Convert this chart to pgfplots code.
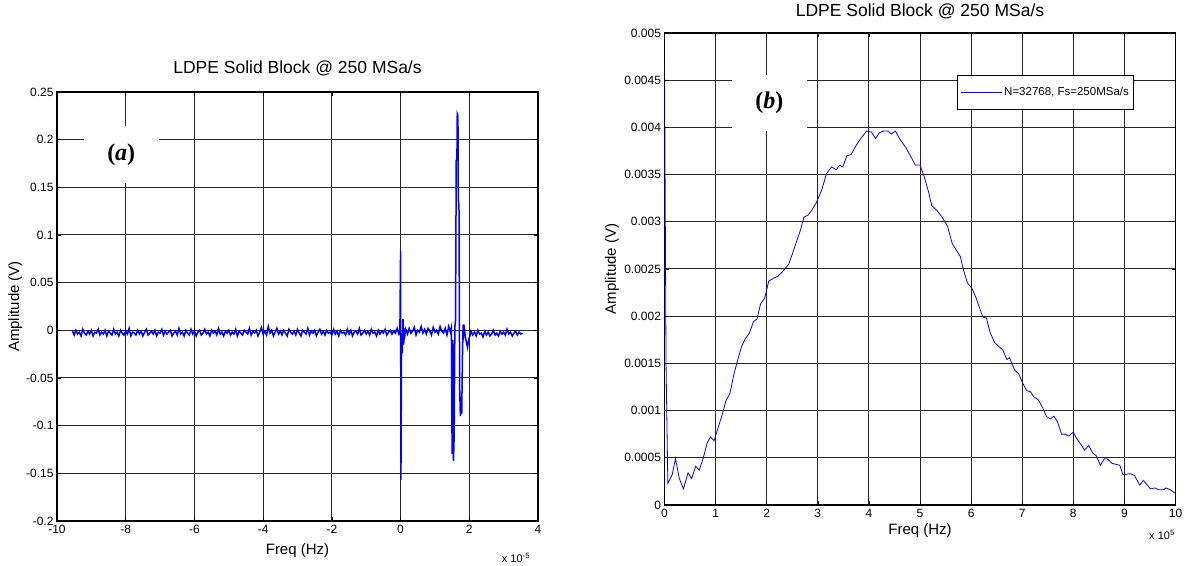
\documentclass[border=0pt]{standalone}
\usepackage{pgfplots}
\pgfplotsset{compat=1.18}
\usepackage{fontspec}
\setmainfont{Liberation Sans}
\newfontfamily\seriffont{Liberation Serif}
\definecolor{mblue}{RGB}{0,0,255}
\begin{document}
\begin{tikzpicture}
\path (0pt,0pt) rectangle (1198pt,562pt);
\pgfplotsset{
 mstyle/.style={
  scale only axis,
  axis line style={line width=1.4pt},
  grid=major,
  grid style={black!85, line width=0.9pt},
  tick style={black, line width=0.6pt},
  major tick length=4pt,
  tick align=inside,
  ticklabel style={font=\fontsize{12}{14}\selectfont},
  xticklabel style={yshift=-1pt},
  label style={font=\fontsize{15}{17}\selectfont},
  title style={font=\fontsize{17.5}{19}\selectfont},
 }
}
% ---------------- left panel ----------------
\begin{axis}[mstyle, name=L,
  at={(57pt,44pt)}, anchor=south west, width=481pt, height=429pt,
  xmin=-10, xmax=4, ymin=-0.2, ymax=0.25,
  xtick={-10,-8,-6,-4,-2,0,2,4},
  xticklabels={-10,-8,-6,-4,-2,0,2,4},
  ytick={-0.2,-0.15,-0.1,-0.05,0,0.05,0.1,0.15,0.2,0.25},
  yticklabels={-0.2,-0.15,-0.1,-0.05,0,0.05,0.1,0.15,0.2,0.25},
  title={LDPE Solid Block @ 250 MSa/s},
  title style={at={(axis description cs:0.5,1.041)}, anchor=center},
  xlabel={Freq (Hz)},
  xlabel style={at={(axis description cs:0.5,-0.07)}, anchor=center},
  ylabel={Amplitude (V)},
  ylabel style={at={(axis description cs:-0.087,0.5)}, anchor=center},
]
\addplot[mblue, line width=1.5pt] coordinates {
(-9.55,-0.001)(-9.50,-0.005)(-9.45,0.000)(-9.40,-0.004)(-9.35,-0.002)(-9.30,-0.006)(-9.25,0.001)(-9.20,-0.003)(-9.15,-0.005)(-9.10,-0.001)
(-9.05,-0.004)(-9.00,0.000)(-8.95,-0.006)(-8.90,-0.002)(-8.85,-0.003)(-8.80,0.001)(-8.75,-0.005)(-8.70,-0.002)(-8.65,-0.004)(-8.60,0.000)
(-8.55,-0.006)(-8.50,-0.001)(-8.45,-0.003)(-8.40,-0.005)(-8.35,0.001)(-8.30,-0.004)(-8.25,-0.002)(-8.20,-0.006)(-8.15,0.000)(-8.10,-0.003)
(-8.05,-0.005)(-8.00,-0.001)(-7.95,-0.004)(-7.90,0.002)(-7.85,-0.006)(-7.80,-0.002)(-7.75,-0.003)(-7.70,-0.005)(-7.65,0.000)(-7.60,-0.004)
(-7.55,-0.001)(-7.50,-0.006)(-7.45,-0.002)(-7.40,0.001)(-7.35,-0.005)(-7.30,-0.003)(-7.25,-0.001)(-7.20,-0.004)(-7.15,0.000)(-7.10,-0.006)
(-7.05,-0.002)(-7.00,-0.003)(-6.95,0.001)(-6.90,-0.005)(-6.85,-0.001)(-6.80,-0.004)(-6.75,-0.002)(-6.70,0.000)(-6.65,-0.006)(-6.60,-0.003)
(-6.55,-0.001)(-6.50,-0.005)(-6.45,0.002)(-6.40,-0.004)(-6.35,-0.002)(-6.30,-0.006)(-6.25,0.000)(-6.20,-0.003)(-6.15,-0.005)(-6.10,0.001)
(-6.05,-0.004)(-6.00,-0.001)(-5.95,-0.006)(-5.90,-0.002)(-5.85,0.000)(-5.80,-0.005)(-5.75,-0.003)(-5.70,0.001)(-5.65,-0.004)(-5.60,-0.002)
(-5.55,-0.006)(-5.50,0.000)(-5.45,-0.003)(-5.40,-0.001)(-5.35,-0.005)(-5.30,0.002)(-5.25,-0.004)(-5.20,-0.002)(-5.15,-0.006)(-5.10,-0.001)
(-5.05,-0.003)
(-5.00,0.000)(-4.95,-0.005)(-4.90,-0.002)(-4.85,-0.004)(-4.80,0.001)(-4.75,-0.006)(-4.70,-0.001)(-4.65,-0.003)(-4.60,-0.005)(-4.55,0.000)
(-4.50,-0.002)(-4.45,-0.004)(-4.40,0.002)(-4.35,-0.005)(-4.30,-0.001)(-4.25,-0.003)(-4.20,0.000)(-4.15,-0.006)(-4.10,-0.002)(-4.05,0.003)
(-4.00,-0.004)(-3.95,-0.001)(-3.90,-0.005)(-3.85,0.004)(-3.80,-0.003)(-3.75,0.000)(-3.70,-0.006)(-3.65,-0.002)(-3.60,0.002)(-3.55,-0.004)
(-3.50,-0.001)(-3.45,-0.005)(-3.40,0.000)(-3.35,-0.003)(-3.30,-0.006)(-3.25,0.001)(-3.20,-0.002)(-3.15,-0.004)(-3.10,-0.001)(-3.05,-0.005)
(-3.00,0.001)(-2.95,-0.003)(-2.90,-0.006)(-2.85,0.000)(-2.80,-0.002)(-2.75,-0.004)(-2.70,0.002)(-2.65,-0.005)(-2.60,-0.001)(-2.55,-0.003)
(-2.50,0.000)(-2.45,-0.006)(-2.40,-0.002)(-2.35,0.001)(-2.30,-0.004)(-2.25,-0.001)(-2.20,-0.005)(-2.15,0.000)(-2.10,-0.003)(-2.05,-0.002)
(-2.00,-0.005)(-1.95,0.001)(-1.90,-0.004)(-1.85,-0.001)(-1.80,-0.006)(-1.75,0.000)(-1.70,-0.003)(-1.65,-0.002)(-1.60,-0.005)(-1.55,0.001)
(-1.50,-0.004)(-1.45,0.000)(-1.40,-0.006)(-1.35,-0.002)(-1.30,-0.001)(-1.25,-0.004)(-1.20,0.002)(-1.15,-0.005)(-1.10,-0.003)(-1.05,0.000)
(-1.00,-0.004)(-0.95,-0.001)(-0.90,-0.005)(-0.85,0.001)(-0.80,-0.003)(-0.75,-0.002)(-0.70,-0.006)(-0.65,0.000)(-0.60,-0.004)(-0.55,-0.001)
(-0.50,-0.003)(-0.45,0.001)(-0.40,-0.005)(-0.35,-0.002)(-0.30,0.000)(-0.25,-0.004)(-0.20,-0.001)(-0.15,-0.003)(-0.10,0.002)(-0.05,-0.004)
(-0.02,-0.002)(0.00,0.083)(0.01,-0.157)(0.03,-0.003)(0.05,-0.024)(0.07,0.012)(0.09,-0.015)(0.11,0.002)(0.13,-0.004)
(0.15,0.001)(0.20,-0.004)(0.25,0.002)(0.30,-0.003)(0.35,-0.001)(0.40,0.003)(0.45,-0.005)(0.50,0.000)(0.55,-0.002)(0.60,0.004)
(0.65,-0.003)(0.70,0.001)(0.75,-0.004)(0.80,0.002)(0.85,-0.001)(0.90,-0.005)(0.95,0.003)(1.00,-0.002)(1.05,0.000)(1.10,-0.004)
(1.15,0.004)(1.20,-0.001)(1.25,-0.003)(1.30,0.002)(1.35,-0.005)(1.40,0.004)(1.45,-0.002)
(1.48,0.003)(1.50,-0.13)(1.52,-0.01)(1.54,-0.137)(1.56,-0.11)(1.58,0.004)(1.60,0.01)(1.62,0.178)(1.64,0.18)(1.65,0.227)
(1.67,0.225)(1.68,0.137)(1.70,0.13)(1.72,-0.06)(1.74,-0.09)(1.76,-0.07)(1.78,-0.088)(1.80,-0.03)(1.82,0.006)(1.84,-0.004)
(1.86,0.001)(1.89,-0.008)(1.92,-0.013)(1.95,-0.018)(1.98,-0.010)(2.01,-0.007)
(2.05,-0.001)(2.10,-0.005)(2.15,-0.002)(2.20,-0.006)(2.25,0.000)(2.30,-0.004)(2.35,-0.003)(2.40,-0.007)(2.45,-0.001)(2.50,-0.005)
(2.55,-0.002)(2.60,-0.006)(2.65,-0.004)(2.70,0.000)(2.75,-0.005)(2.80,-0.003)(2.85,-0.006)(2.90,-0.001)(2.95,-0.004)(3.00,-0.002)
(3.05,-0.005)(3.10,0.001)(3.15,-0.004)(3.20,-0.002)(3.25,-0.006)(3.30,-0.003)(3.35,-0.001)(3.40,-0.005)(3.45,-0.002)(3.50,-0.004)
(3.55,-0.003)
};
\node[fill=white, inner sep=0pt, minimum width=75pt, minimum height=57pt,
      font=\seriffont\fontsize{24}{24}\selectfont\bfseries] at (axis cs:-8.13,0.184) {(\textit{a})};
\end{axis}
\node[font=\fontsize{11}{12}\selectfont, anchor=center, xshift=-22pt, yshift=-37pt] at (L.south east) {x 10\textsuperscript{-5}};
% ---------------- right panel ----------------
\begin{axis}[mstyle, name=R,
  at={(664.5pt,60pt)}, anchor=south west, width=511pt, height=472pt,
  xmin=0, xmax=10, ymin=0, ymax=0.005,
  xtick={0,1,2,3,4,5,6,7,8,9,10},
  xticklabels={0,1,2,3,4,5,6,7,8,9,10},
  ytick={0,0.0005,0.001,0.0015,0.002,0.0025,0.003,0.0035,0.004,0.0045,0.005},
  yticklabels={0,0.0005,0.001,0.0015,0.002,0.0025,0.003,0.0035,0.004,0.0045,0.005},
  scaled y ticks=false,
  title={LDPE Solid Block @ 250 MSa/s},
  title style={at={(axis description cs:0.5,1.034)}, anchor=center},
  xlabel={Freq (Hz)},
  xlabel style={at={(axis description cs:0.5,-0.055)}, anchor=center},
  ylabel={Amplitude (V)},
  ylabel style={at={(axis description cs:-0.103,0.5)}, anchor=center},
  legend style={at={(0.572,0.911)}, anchor=north west, draw=black, line width=0.8pt,
     fill=white, font=\fontsize{11.5}{13}\selectfont, inner xsep=3pt, inner ysep=10pt},
  legend cell align=left,
  legend image code/.code={\draw[#1, line width=1pt] (0pt,0pt) -- (41pt,0pt);},
]
\addplot[mblue, line width=0.8pt] coordinates {
(0,0.0047)(0.03,0.0015)(0.065,0.00023)(0.15,0.00032)(0.215,0.00049)(0.29,0.00028)(0.37,0.00017)(0.46,0.00034)(0.53,0.00028)(0.61,0.00041)
(0.68,0.00037)(0.76,0.0005)(0.83,0.00065)(0.90,0.00072)(0.97,0.00068)(1.05,0.00082)(1.12,0.00094)(1.20,0.0011)(1.28,0.00118)(1.36,0.00139)
(1.44,0.00155)(1.51,0.00168)(1.58,0.00176)(1.66,0.00182)(1.74,0.00194)(1.81,0.00197)(1.88,0.00213)(1.96,0.00219)(2.04,0.00237)(2.13,0.0024)
(2.21,0.00242)(2.31,0.00247)(2.43,0.00255)(2.51,0.00267)(2.59,0.0028)(2.66,0.00291)(2.73,0.00305)(2.81,0.00307)(2.88,0.00312)(2.97,0.0032)
(3.08,0.00334)(3.17,0.00351)(3.27,0.00358)(3.36,0.00355)(3.43,0.0036)(3.49,0.00358)(3.57,0.0037)(3.65,0.00371)(3.74,0.0038)(3.84,0.00388)
(3.95,0.00396)(4.05,0.00395)(4.13,0.00388)(4.20,0.00394)(4.28,0.00396)(4.37,0.00396)(4.44,0.00393)(4.52,0.00396)(4.60,0.00388)(4.73,0.00378)
(4.86,0.00365)(4.91,0.0036)(5.0,0.0036)(5.08,0.00348)(5.17,0.00331)(5.23,0.00317)(5.33,0.00312)(5.43,0.00305)(5.54,0.00295)(5.63,0.00277)
(5.71,0.0027)(5.79,0.00263)(5.85,0.00249)(5.93,0.00235)(6.02,0.00229)(6.10,0.00219)(6.17,0.00208)(6.23,0.00199)(6.30,0.00198)(6.37,0.00183)
(6.46,0.00172)(6.54,0.00168)(6.62,0.00164)(6.70,0.00154)(6.75,0.00156)(6.85,0.00143)(6.93,0.00139)(7.01,0.00129)(7.09,0.00121)(7.16,0.0012)
(7.22,0.00115)(7.32,0.00111)(7.41,0.00102)(7.47,0.00094)(7.55,0.00091)(7.62,0.00094)(7.69,0.00088)(7.77,0.00075)(7.84,0.00075)(7.91,0.00073)
(8.0,0.00077)(8.07,0.0007)(8.15,0.00064)(8.22,0.00058)(8.30,0.00063)(8.38,0.00055)(8.45,0.00052)(8.53,0.00042)(8.61,0.00049)(8.66,0.00049)
(8.76,0.00044)(8.91,0.00042)(8.97,0.00032)(9.12,0.00033)(9.20,0.00031)(9.30,0.00021)(9.37,0.00026)(9.51,0.00017)(9.60,0.00018)(9.67,0.00016)
(9.76,0.00016)(9.82,0.00018)(9.90,0.00016)(10.0,0.00012)
};
\addlegendentry{N=32768, Fs=250MSa/s\hspace{24pt}}
\node[fill=white, inner sep=0pt, minimum width=75pt, minimum height=56pt,
      font=\seriffont\fontsize{24}{24}\selectfont\bfseries] at (axis cs:2.05,0.00426) {(\textit{b})};
\end{axis}
\node[font=\fontsize{11}{12}\selectfont, anchor=center, xshift=-13.5pt, yshift=-30pt] at (R.south east) {x 10\textsuperscript{5}};
\end{tikzpicture}
\end{document}
